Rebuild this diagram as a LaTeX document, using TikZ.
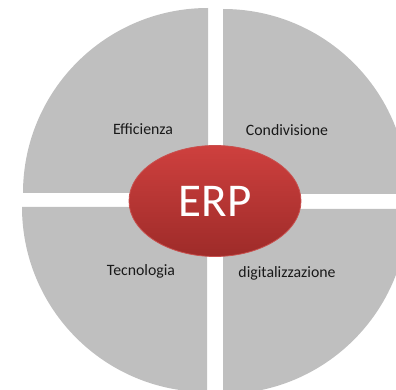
\documentclass[tikz,border=0pt]{standalone}
\usepackage{fontspec}
\setmainfont{Carlito}
\definecolor{quadgray}{RGB}{191,191,191}
\definecolor{erptop}{RGB}{206,64,62}
\definecolor{erpbottom}{RGB}{158,43,41}
\definecolor{erpline}{RGB}{200,80,78}
\tikzset{
  quad/.style={fill=quadgray,draw=none},
  label/.style={font=\fontsize{15.8}{18}\selectfont,text=black!90},
  core/.style={ellipse,minimum width=172pt,minimum height=111pt,inner sep=0pt,
    top color=erptop,bottom color=erpbottom,draw=erpline,line width=0.8pt,
    text=white,font=\fontsize{47}{50}\selectfont}
}
\usetikzlibrary{shapes.geometric}
\begin{document}
\begin{tikzpicture}[x=1pt,y=-1pt]
  \useasboundingbox (0,0) rectangle (396,390);
  \clip (0,0) rectangle (396,390);
  % quarters
  \fill[quad] (208,193) -- (23,193) arc[start angle=180,end angle=90,radius=185pt] -- cycle;
  \fill[quad] (223,194) -- (223,9) arc[start angle=90,end angle=0,radius=185pt] -- cycle;
  \fill[quad] (207,207) -- (22,207) arc[start angle=180,end angle=270,radius=185pt] -- cycle;
  \fill[quad] (223,209) -- (408,209) arc[start angle=0,end angle=-90,radius=185pt] -- cycle;
  % labels
  \node[label] (eff) at (143,129) {Efficienza};
  \node[label] (cond) at (287,130) {Condivisione};
  \node[label] (tec) at (141,271) {Tecnologia};
  \node[label] (dig) at (287,273) {digitalizzazione};
  % centre
  \node[core] (erp) at (215,201) {ERP};
\end{tikzpicture}
\end{document}
